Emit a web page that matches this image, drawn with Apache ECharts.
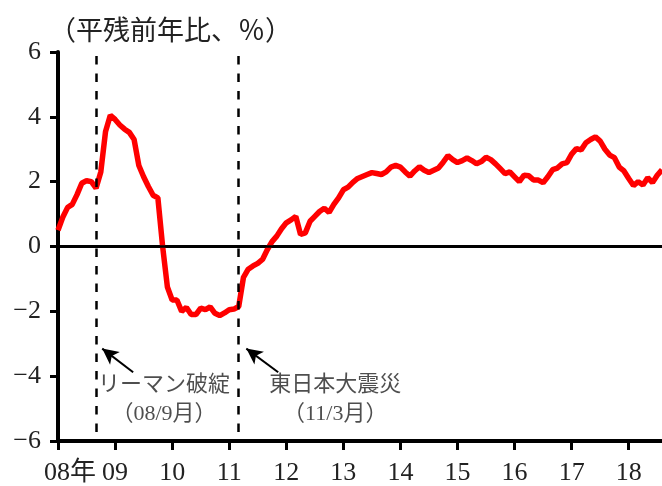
<!DOCTYPE html>
<html>
<head>
<meta charset="utf-8">
<script src="https://cdn.jsdelivr.net/npm/echarts@6/dist/echarts.min.js"></script>
<style>
  html, body { margin: 0; padding: 0; background: #fff; }
  #chart { width: 662px; height: 486px; }
</style>
</head>
<body>
<div id="chart"></div>
<script>
// month index 0 = Jan 2008, one value per month up to Aug 2018
var growth = [
  0.5, 0.9, 1.2, 1.3, 1.6, 1.95, 2.03, 2.0, 1.8, 2.3, 3.55, 4.05,
  3.92, 3.75, 3.62, 3.52, 3.3, 2.5, 2.15, 1.85, 1.58, 1.5, 0.0, -1.25,
  -1.65, -1.65, -2.0, -1.88, -2.1, -2.1, -1.9, -1.95, -1.86, -2.06, -2.13, -2.05,
  -1.95, -1.93, -1.85, -0.95, -0.7, -0.6, -0.52, -0.4, -0.1, 0.15, 0.32, 0.55,
  0.73, 0.82, 0.93, 0.37, 0.42, 0.78, 0.93, 1.08, 1.18, 1.05, 1.3, 1.5,
  1.75, 1.83, 1.98, 2.1, 2.16, 2.22, 2.28, 2.25, 2.22, 2.3, 2.45, 2.5,
  2.45, 2.3, 2.17, 2.33, 2.46, 2.35, 2.28, 2.35, 2.42, 2.6, 2.8, 2.68,
  2.59, 2.65, 2.73, 2.65, 2.55, 2.62, 2.75, 2.68, 2.55, 2.4, 2.25, 2.3,
  2.15, 2.0, 2.2, 2.18, 2.05, 2.05, 1.97, 2.15, 2.37, 2.42, 2.55, 2.59,
  2.85, 3.02, 2.98, 3.2, 3.3, 3.38, 3.25, 3.0, 2.82, 2.74, 2.45, 2.33,
  2.1, 1.88, 2.0, 1.9, 2.12, 1.97, 2.2, 2.37
];
var yearLabels = ['08年', '09', '10', '11', '12', '13', '14', '15', '16', '17', '18'];

// events: month index of the dashed line
var eventMonths = [8, 38];
var eventTexts = ['リーマン破綻\n（08/9月）', '東日本大震災\n（11/3月）'];
var eventTextPos = [[22.3, -4.74], [58.3, -4.74]];
var arrowFrom = [[15.8, -3.88], [46.3, -3.88]];
var arrowTo = [[9.3, -3.15], [39.6, -3.15]];

var points = growth.map(function (v, i) { return [i, v]; });
var font = "'Liberation Serif', 'Noto Sans CJK JP', serif";

var chart = echarts.init(document.getElementById('chart'));

var markLines = [{ yAxis: 0, lineStyle: { type: 'solid', width: 2.5, color: '#000' } }];
eventMonths.forEach(function (m) {
  markLines.push({ xAxis: m, lineStyle: { type: [8.5, 9], dashOffset: -9, width: 2.5, color: '#000' } });
});
arrowFrom.forEach(function (p, i) {
  markLines.push([
    { coord: p, symbol: 'none' },
    { coord: arrowTo[i], symbol: 'arrow', symbolSize: [12, 16], lineStyle: { type: 'solid', width: 2, color: '#000' } }
  ]);
});

chart.setOption({
  animation: false,
  textStyle: { fontFamily: font },
  title: {
    text: '（平残前年比、％）',
    left: 44,
    top: 14,
    textStyle: { fontFamily: font, fontSize: 27, fontWeight: 'normal', color: '#222' }
  },
  grid: { left: 58, right: 0, top: 52, bottom: 44 },
  xAxis: [{
    type: 'value',
    min: 0,
    max: growth.length - 1,
    interval: 12,
    axisLine: { onZero: false, lineStyle: { color: '#000', width: 4 } },
    axisTick: { length: 9, lineStyle: { color: '#000', width: 3 } },
    splitLine: { show: false },
    axisLabel: {
      margin: 19,
      color: '#222',
      fontFamily: font,
      fontSize: 26,
      showMaxLabel: false,
      formatter: function (v) {
        if (v % 12 !== 0) return '';
        var s = yearLabels[v / 12];
        return v === 0 ? '{first|' + s + '}' : s;
      },
      rich: { first: { fontFamily: font, fontSize: 26, color: '#222', padding: [0, 0, 0, 24] } }
    }
  }, {
    type: 'value',
    position: 'top',
    min: 0,
    max: growth.length - 1,
    axisLine: { show: true, lineStyle: { color: '#000', width: 3 } },
    axisTick: { show: false },
    axisLabel: { show: false },
    splitLine: { show: false }
  }],
  yAxis: {
    type: 'value',
    min: -6,
    max: 6,
    interval: 2,
    axisLine: { show: true, lineStyle: { color: '#000', width: 4 } },
    axisTick: { show: true, length: 8, lineStyle: { color: '#000', width: 3 } },
    splitLine: { show: false },
    axisLabel: {
      margin: 17,
      color: '#222',
      fontFamily: font,
      fontSize: 26,
      formatter: function (v) { return String(v).replace('-', '−'); }
    }
  },
  series: [{
    type: 'line',
    data: points,
    showSymbol: false,
    lineStyle: { color: '#ff0000', width: 5.5 },
    z: 3,
    markLine: {
      silent: true,
      symbol: 'none',
      label: { show: false },
      data: markLines
    }
  }, {
    type: 'scatter',
    symbolSize: 0,
    data: eventTextPos.map(function (p, i) { return { value: p, name: eventTexts[i] }; }),
    label: {
      show: true,
      position: 'inside',
      formatter: '{b}',
      fontFamily: font,
      fontSize: 22,
      lineHeight: 29,
      color: '#222',
      align: 'center'
    }
  }]
});
</script>
</body>
</html>
